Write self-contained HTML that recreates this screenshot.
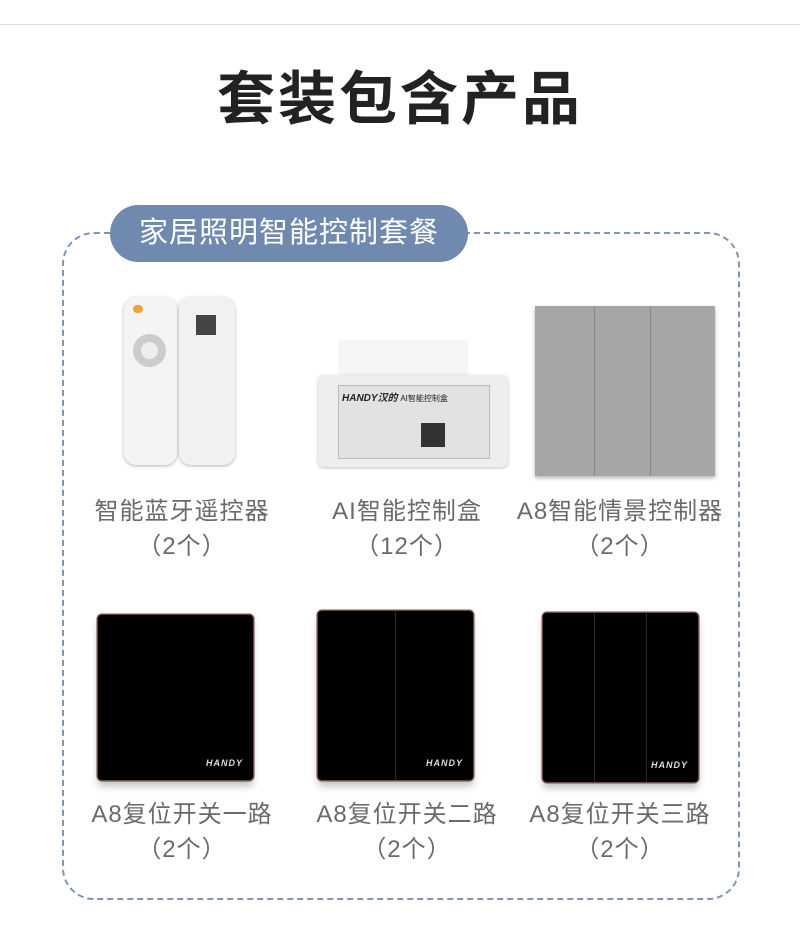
<!DOCTYPE html>
<html><head><meta charset="utf-8"><style>
body{margin:0;width:800px;height:929px;background:#fff;position:relative;overflow:hidden;font-family:"Liberation Sans","Noto Sans CJK SC",sans-serif}
.a{position:absolute}
.lbl{position:absolute;width:240px;text-align:center;color:#6a6a6a;font-size:24px;line-height:35px;letter-spacing:1px}
.sw{position:absolute;background:#000;border-radius:4px;box-shadow:0 0 0 1.5px #6b4a40,0 6px 8px rgba(0,0,0,.25)}
.hd{position:absolute;right:10px;bottom:12px;color:#ddd;font-size:9px;font-style:italic;font-weight:bold;letter-spacing:1px}
.dv{position:absolute;top:0;bottom:0;width:1px;background:#2a2a2a}
</style></head><body>
<div class="a" style="left:0;top:24px;width:800px;height:1px;background:#ddd"></div>
<div class="a" style="left:0;top:62px;width:800px;text-align:center;font-size:58px;font-weight:bold;color:#222;letter-spacing:3px;line-height:76px">套装包含产品</div>
<div class="a" style="left:62px;top:232px;width:674px;height:664px;border:2px dashed #8094b8;border-radius:32px"></div>
<div class="a" style="left:110px;top:205px;width:358px;height:57px;background:#7089ae;border-radius:29px;color:#fff;font-size:29px;line-height:57px;text-align:center;letter-spacing:1px">家居照明智能控制套餐</div>

<div class="a" style="left:124px;top:297px;width:53px;height:168px;background:#f4f4f4;border-radius:12px;box-shadow:0 1px 3px rgba(0,0,0,.3)"></div>
<div class="a" style="left:133px;top:334px;width:33px;height:33px;border-radius:50%;background:#ccc"></div>
<div class="a" style="left:141px;top:342px;width:17px;height:17px;border-radius:50%;background:#eee"></div>
<div class="a" style="left:133px;top:305px;width:10px;height:8px;border-radius:4px;background:#f0a040"></div>
<div class="a" style="left:179px;top:297px;width:56px;height:168px;background:#f1f1f1;border-radius:12px;box-shadow:0 1px 3px rgba(0,0,0,.3)"></div>
<div class="a" style="left:196px;top:315px;width:20px;height:20px;background:#444"></div>

<div class="a" style="left:338px;top:340px;width:130px;height:40px;background:#f6f6f6"></div>
<div class="a" style="left:318px;top:375px;width:190px;height:92px;background:#eee;border-radius:6px;box-shadow:0 1px 3px rgba(0,0,0,.25)"></div>
<div class="a" style="left:338px;top:385px;width:150px;height:72px;background:#e2e2e2;border:1px solid #bbb"></div>
<div class="a" style="left:342px;top:389px;font-size:10px;font-weight:bold;font-style:italic;color:#222">HANDY汉的 <span style="font-weight:normal;font-style:normal;font-size:8px">AI智能控制盒</span></div>
<div class="a" style="left:421px;top:423px;width:24px;height:24px;background:#333"></div>

<div class="a" style="left:535px;top:306px;width:180px;height:170px;background:#a6a6a6;box-shadow:0 2px 4px rgba(0,0,0,.3)"></div>
<div class="a" style="left:594px;top:306px;width:1px;height:170px;background:#888"></div>
<div class="a" style="left:650px;top:306px;width:1px;height:170px;background:#888"></div>

<div class="lbl" style="left:62px;top:494px">智能蓝牙遥控器<br>（2个）</div>
<div class="lbl" style="left:287px;top:494px">AI智能控制盒<br>（12个）</div>
<div class="lbl" style="left:500px;top:494px">A8智能情景控制器<br>（2个）</div>

<div class="sw" style="left:98px;top:615px;width:155px;height:165px"><div class="hd">HANDY</div></div>
<div class="sw" style="left:318px;top:611px;width:155px;height:169px"><div class="dv" style="left:77px"></div><div class="hd">HANDY</div></div>
<div class="sw" style="left:543px;top:613px;width:155px;height:169px"><div class="dv" style="left:51px"></div><div class="dv" style="left:103px"></div><div class="hd">HANDY</div></div>

<div class="lbl" style="left:62px;top:797px">A8复位开关一路<br>（2个）</div>
<div class="lbl" style="left:287px;top:797px">A8复位开关二路<br>（2个）</div>
<div class="lbl" style="left:500px;top:797px">A8复位开关三路<br>（2个）</div>
</body></html>
